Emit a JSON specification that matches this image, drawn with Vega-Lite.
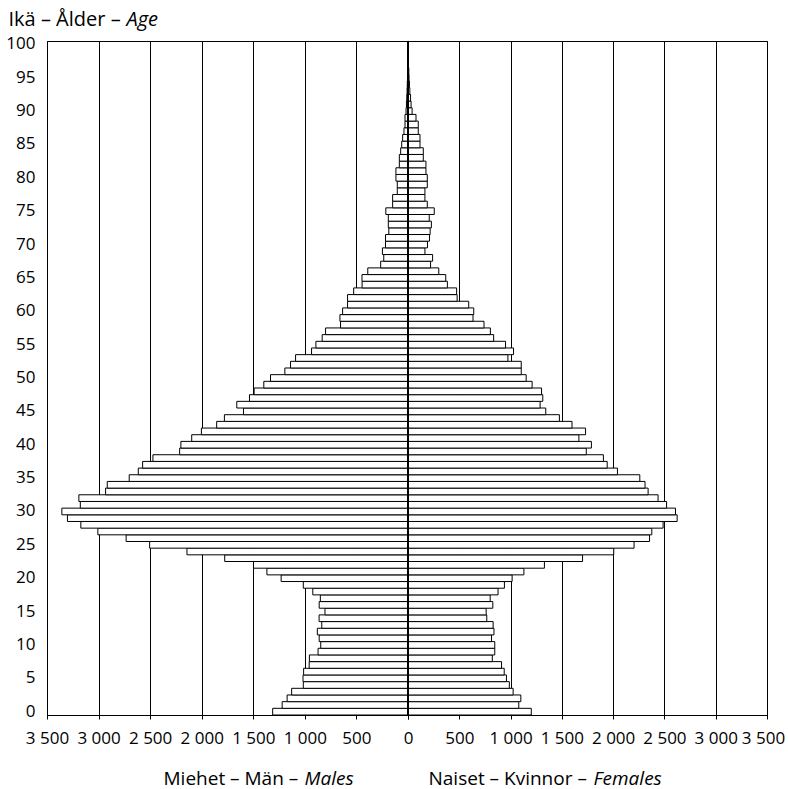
{
  "$schema": "https://vega.github.io/schema/vega-lite/v6.json",
  "padding": {"left": 5, "top": 8, "right": 5, "bottom": 5},
  "background": "white",
  "spacing": 0,
  "bounds": "flush",
  "config": {
    "font": "Open Sans",
    "view": {"stroke": "black", "strokeWidth": 1},
    "axis": {
      "labelColor": "black",
      "titleColor": "black",
      "labelFontSize": 17,
      "titleFontSize": 19,
      "titleFontWeight": "normal",
      "domainColor": "black",
      "tickColor": "black",
      "gridColor": "black",
      "gridOpacity": 1,
      "gridWidth": 1
    }
  },
  "datasets": {
    "pop": [
      {"age": 0, "males": 1312, "females": 1202},
      {"age": 1, "males": 1220, "females": 1080},
      {"age": 2, "males": 1172, "females": 1100},
      {"age": 3, "males": 1128, "females": 1025},
      {"age": 4, "males": 1015, "females": 988},
      {"age": 5, "males": 1018, "females": 960},
      {"age": 6, "males": 1012, "females": 938},
      {"age": 7, "males": 958, "females": 912},
      {"age": 8, "males": 956, "females": 822},
      {"age": 9, "males": 872, "females": 846},
      {"age": 10, "males": 846, "females": 846},
      {"age": 11, "males": 861, "females": 814},
      {"age": 12, "males": 879, "females": 838},
      {"age": 13, "males": 836, "females": 830},
      {"age": 14, "males": 862, "females": 768},
      {"age": 15, "males": 805, "females": 762},
      {"age": 16, "males": 861, "females": 827},
      {"age": 17, "males": 850, "females": 801},
      {"age": 18, "males": 923, "females": 878},
      {"age": 19, "males": 1015, "females": 940},
      {"age": 20, "males": 1230, "females": 1015},
      {"age": 21, "males": 1368, "females": 1130},
      {"age": 22, "males": 1498, "females": 1330},
      {"age": 23, "males": 1777, "females": 1702},
      {"age": 24, "males": 2143, "females": 2006},
      {"age": 25, "males": 2505, "females": 2204},
      {"age": 26, "males": 2733, "females": 2355},
      {"age": 27, "males": 3007, "females": 2377},
      {"age": 28, "males": 3172, "females": 2487},
      {"age": 29, "males": 3302, "females": 2624},
      {"age": 30, "males": 3356, "females": 2608},
      {"age": 31, "males": 3177, "females": 2521},
      {"age": 32, "males": 3191, "females": 2438},
      {"age": 33, "males": 2932, "females": 2341},
      {"age": 34, "males": 2916, "females": 2311},
      {"age": 35, "males": 2703, "females": 2260},
      {"age": 36, "males": 2615, "females": 2042},
      {"age": 37, "males": 2573, "females": 1942},
      {"age": 38, "males": 2473, "females": 1905},
      {"age": 39, "males": 2214, "females": 1738},
      {"age": 40, "males": 2202, "females": 1788},
      {"age": 41, "males": 2097, "females": 1666},
      {"age": 42, "males": 2003, "females": 1731},
      {"age": 43, "males": 1855, "females": 1599},
      {"age": 44, "males": 1780, "females": 1476},
      {"age": 45, "males": 1595, "females": 1343},
      {"age": 46, "males": 1660, "females": 1288},
      {"age": 47, "males": 1537, "females": 1314},
      {"age": 48, "males": 1492, "females": 1302},
      {"age": 49, "males": 1398, "females": 1210},
      {"age": 50, "males": 1333, "females": 1152},
      {"age": 51, "males": 1194, "females": 1104},
      {"age": 52, "males": 1139, "females": 1104},
      {"age": 53, "males": 1090, "females": 974},
      {"age": 54, "males": 935, "females": 1029},
      {"age": 55, "males": 893, "females": 951},
      {"age": 56, "males": 832, "females": 835},
      {"age": 57, "males": 799, "females": 803},
      {"age": 58, "males": 654, "females": 741},
      {"age": 59, "males": 660, "females": 634},
      {"age": 60, "males": 634, "females": 641},
      {"age": 61, "males": 586, "females": 592},
      {"age": 62, "males": 586, "females": 479},
      {"age": 63, "males": 527, "females": 474},
      {"age": 64, "males": 445, "females": 384},
      {"age": 65, "males": 446, "females": 368},
      {"age": 66, "males": 390, "females": 300},
      {"age": 67, "males": 265, "females": 220},
      {"age": 68, "males": 235, "females": 240},
      {"age": 69, "males": 248, "females": 165},
      {"age": 70, "males": 218, "females": 190},
      {"age": 71, "males": 218, "females": 210},
      {"age": 72, "males": 186, "females": 216},
      {"age": 73, "males": 191, "females": 228},
      {"age": 74, "males": 191, "females": 207},
      {"age": 75, "males": 215, "females": 256},
      {"age": 76, "males": 149, "females": 188},
      {"age": 77, "males": 149, "females": 165},
      {"age": 78, "males": 104, "females": 165},
      {"age": 79, "males": 104, "females": 188},
      {"age": 80, "males": 117, "females": 188},
      {"age": 81, "males": 117, "females": 175},
      {"age": 82, "males": 84, "females": 175},
      {"age": 83, "males": 84, "females": 149},
      {"age": 84, "males": 71, "females": 149},
      {"age": 85, "males": 61, "females": 117},
      {"age": 86, "males": 52, "females": 117},
      {"age": 87, "males": 39, "females": 100},
      {"age": 88, "males": 29, "females": 100},
      {"age": 89, "males": 29, "females": 78},
      {"age": 90, "males": 19, "females": 40},
      {"age": 91, "males": 15, "females": 30},
      {"age": 92, "males": 12, "females": 25},
      {"age": 93, "males": 9, "females": 18},
      {"age": 94, "males": 7, "females": 14},
      {"age": 95, "males": 5, "females": 10},
      {"age": 96, "males": 4, "females": 8},
      {"age": 97, "males": 3, "females": 5},
      {"age": 98, "males": 2, "females": 4},
      {"age": 99, "males": 1, "females": 3},
      {"age": 100, "males": 1, "females": 2}
    ]
  },
  "hconcat": [
    {
      "width": 361,
      "height": 674,
      "layer": [
        {
          "data": {"name": "pop"},
          "mark": {"type": "bar", "fill": "white", "stroke": "black", "strokeWidth": 1},
          "encoding": {
            "y": {
              "field": "age",
              "type": "ordinal",
              "sort": "descending",
              "scale": {"paddingInner": 0, "paddingOuter": 0},
              "axis": {
                "values": [0, 5, 10, 15, 20, 25, 30, 35, 40, 45, 50, 55, 60, 65, 70, 75, 80, 85, 90, 95, 100],
                "ticks": false,
                "labelPadding": 12,
                "domain": true,
                "title": "Ikä – Ålder –",
                "titleFontSize": 20,
                "titleAngle": 0,
                "titleAlign": "left",
                "titleBaseline": "alphabetic",
                "titleX": -39,
                "titleY": -16
              }
            },
            "x": {
              "field": "males",
              "type": "quantitative",
              "scale": {"domain": [0, 3500], "reverse": true, "nice": false, "zero": true},
              "axis": {
                "values": [0, 500, 1000, 1500, 2000, 2500, 3000, 3500],
                "grid": true,
                "ticks": true,
                "tickSize": 4,
                "labelPadding": 11,
                "labelFlush": false,
                "labelOverlap": false,
                "labelBound": false,
                "labelExpr": "datum.value == 0 ? '' : replace(format(datum.value, ',d'), ',', ' ')",
                "title": "Miehet – Män –",
                "titleAlign": "left",
                "titleBaseline": "alphabetic",
                "titleX": 116,
                "titleY": 69
              }
            }
          }
        },
        {
          "data": {"values": [{}]},
          "mark": {"type": "rule", "color": "black", "strokeWidth": 2},
          "encoding": {
            "x": {
              "datum": 0,
              "type": "quantitative",
              "axis": {
                "orient": "bottom",
                "labels": false,
                "ticks": false,
                "domain": false,
                "grid": false,
                "title": "Males",
                "titleFontStyle": "italic",
                "titleAlign": "left",
                "titleBaseline": "alphabetic",
                "titleX": 257,
                "titleY": 69
              }
            }
          }
        }
      ],
      "resolve": {"axis": {"x": "independent"}}
    },
    {
      "width": 359,
      "height": 674,
      "layer": [
        {
          "data": {"name": "pop"},
          "mark": {"type": "bar", "fill": "white", "stroke": "black", "strokeWidth": 1},
          "encoding": {
            "y": {
              "field": "age",
              "type": "ordinal",
              "sort": "descending",
              "scale": {"paddingInner": 0, "paddingOuter": 0},
              "axis": {
                "labels": false,
                "ticks": false,
                "domain": false,
                "title": "Age",
                "titleFontSize": 20,
                "titleFontStyle": "italic",
                "titleAngle": 0,
                "titleAlign": "left",
                "titleBaseline": "alphabetic",
                "titleX": -282,
                "titleY": -16
              }
            },
            "x": {
              "field": "females",
              "type": "quantitative",
              "scale": {"domain": [0, 3500], "nice": false, "zero": true},
              "axis": {
                "values": [0, 500, 1000, 1500, 2000, 2500, 3000, 3500],
                "grid": true,
                "ticks": true,
                "tickSize": 4,
                "labelPadding": 11,
                "labelFlush": false,
                "labelOverlap": false,
                "labelBound": false,
                "labelOffset": {"condition": {"test": "datum.value == 3500", "value": -4}, "value": 0},
                "labelExpr": "replace(format(datum.value, ',d'), ',', ' ')",
                "title": "Naiset – Kvinnor –",
                "titleAlign": "left",
                "titleBaseline": "alphabetic",
                "titleX": 20,
                "titleY": 69
              }
            }
          }
        },
        {
          "data": {"values": [{}]},
          "mark": {"type": "rule", "color": "black", "strokeWidth": 2},
          "encoding": {
            "x": {
              "datum": 0,
              "type": "quantitative",
              "axis": {
                "orient": "bottom",
                "labels": false,
                "ticks": false,
                "domain": false,
                "grid": false,
                "title": "Females",
                "titleFontStyle": "italic",
                "titleAlign": "left",
                "titleBaseline": "alphabetic",
                "titleX": 185,
                "titleY": 69
              }
            }
          }
        }
      ],
      "resolve": {"axis": {"x": "independent"}}
    }
  ]
}
